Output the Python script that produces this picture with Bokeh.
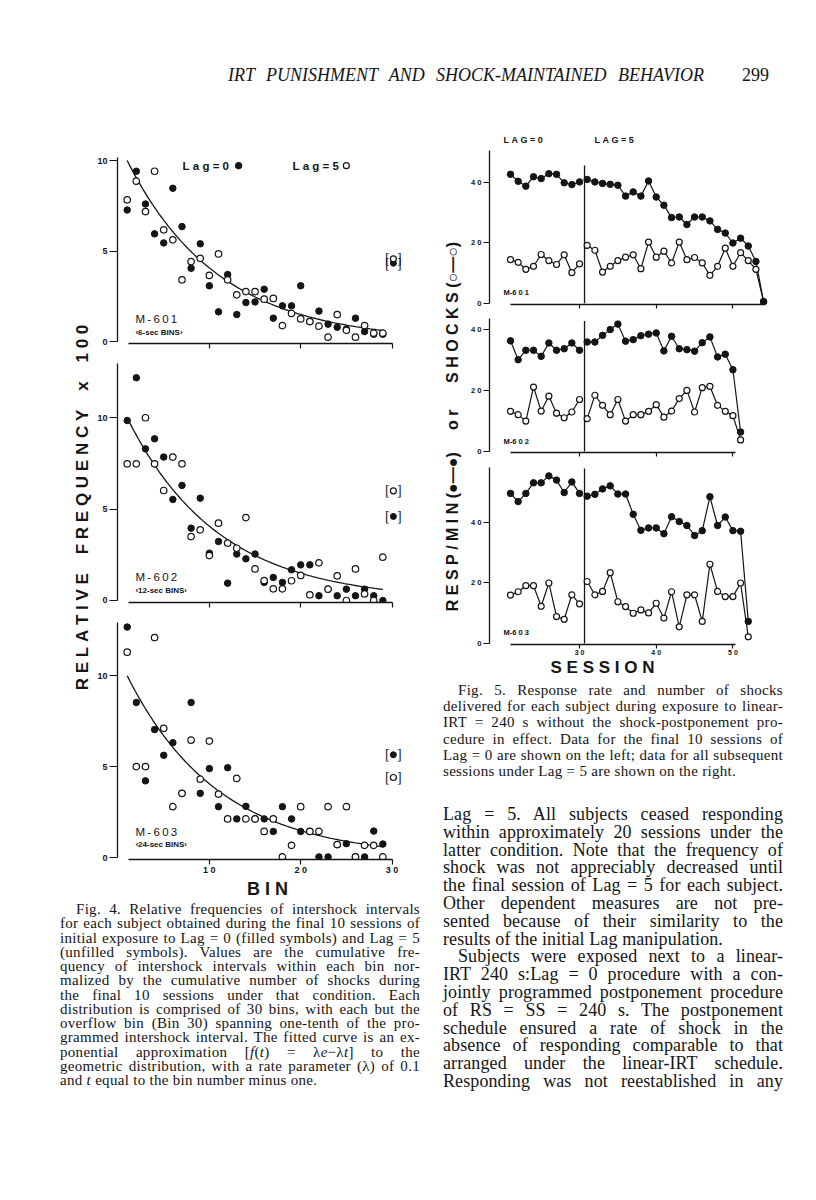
import numpy as np
from bokeh.plotting import figure
from bokeh.layouts import column, row
from bokeh.models import Div, Range1d, FixedTicker, Spacer
from bokeh.core.properties import value
from bokeh.embed import file_html
from bokeh.resources import INLINE

# ---------------- data read from the page ----------------
# Fig. 4: relative frequency x 100 per bin (bins 1-29); bin 30 (overflow) is bracketed
bins = list(range(1, 30))
bin_ticks = [10, 20, 30]
freq_ticks = [0, 5, 10]
m601_lag0 = [7.27, 9.41, 7.60, 5.95, 5.45, 8.47, 6.35, 4.05, 5.40, 3.08, 1.64, 3.70, 1.49, 2.15, 2.19,
             2.89, 1.29, 1.97, 1.97, 3.08, 1.10, 1.68, 0.96, 0.79, 0.68, 1.29, 0.55, 0.40, 0.40]
m601_lag5 = [7.83, 8.86, 7.18, 9.41, 6.17, 5.62, 3.41, 4.42, 4.60, 3.65, 4.84, 3.41, 2.58, 2.76, 2.76,
             2.34, 2.38, 0.88, 1.55, 1.25, 1.10, 0.85, 0.24, 1.49, 0.62, 0.24, 0.88, 0.46, 0.46]
m602_lag0 = [9.85, 12.19, 8.30, 8.85, 7.85, 5.53, 6.30, 3.96, 5.60, 2.59, 3.23, 0.95, 2.54, 2.28, 2.54,
             0.99, 1.26, 0.99, 1.68, 1.95, 1.95, 0.26, 0.62, 0.26, 0.62, 0.26, 0.62, 0.26, 0.00]
m602_lag5 = [7.48, 7.48, 10.00, 7.48, 6.02, 7.85, 7.48, 3.50, 3.87, 2.46, 4.23, 3.14, 2.86, 4.54, 1.73,
             1.09, 0.64, 0.64, 1.08, 1.37, 0.31, 2.06, 0.62, 1.35, 0.00, 1.73, 0.36, 0.00, 2.37]
m603_lag0 = [12.67, 8.53, 4.23, 7.04, 5.63, 6.32, 3.54, 8.53, 3.54, 4.90, 2.81, 4.95, 2.14, 2.83, 2.14,
             2.14, 1.45, 2.81, 2.14, 1.45, 1.45, 0.05, 0.05, 0.73, 0.78, 0.05, 0.05, 1.47, 0.76]
m603_lag5 = [11.29, 5.01, 5.01, 12.09, 7.11, 2.81, 3.54, 6.46, 4.32, 6.41, 3.50, 2.14, 4.36, 2.14, 2.14,
             1.45, 2.14, 0.05, 0.69, 2.81, 1.45, 1.45, 2.81, 0.73, 2.81, 0.05, 0.69, 0.69, 0.05]
overflow_bin = 30
overflow_lag0 = [4.33, 4.60, 5.66]   # M-601, M-602, M-603
overflow_lag5 = [4.57, 6.00, 4.41]
lambda_rate = 0.1                    # fitted exponential, f(t) = lambda * exp(-lambda t), t = bin - 1

# Fig. 5: responses/min (filled) and shocks (unfilled) per session
session_ticks = [30, 40, 50]
rate_ticks = [0, 20, 40]
sessions_lag0 = list(range(21, 31))
lag_boundary = 30.65
m601_resp_lag0 = [42.6, 40.3, 38.7, 41.8, 41.2, 42.8, 42.6, 39.8, 39.2, 40.1]
m601_shock_lag0 = [14.4, 13.5, 11.2, 12.2, 16.1, 14.1, 12.8, 16.0, 10.1, 13.0]
m601_resp_lag5 = [40.9, 40.1, 39.6, 39.3, 39.0, 35.4, 36.8, 35.4, 40.4, 35.1, 32.4, 28.3, 28.5, 26.0,
                  28.5, 28.5, 27.2, 24.4, 23.2, 19.9, 21.5, 18.9, 13.8, 0.5]
m601_shock_lag5 = [19.1, 17.5, 10.3, 12.2, 14.1, 15.2, 16.0, 11.4, 20.2, 15.2, 17.2, 13.3, 20.2, 14.4,
                   15.1, 13.3, 9.2, 12.2, 18.2, 12.2, 16.7, 14.1, 11.2, 0.5]
m602_resp_lag0 = [36.4, 30.2, 33.3, 33.3, 31.3, 35.7, 33.3, 33.8, 35.7, 33.3]
m602_shock_lag0 = [13.2, 12.1, 10.0, 21.2, 13.3, 18.2, 12.6, 11.1, 13.0, 17.1]
m602_resp_lag5 = [36.0, 36.0, 38.2, 40.1, 41.9, 36.3, 36.8, 38.1, 38.6, 39.0, 33.1, 37.9, 33.8, 33.5,
                  33.0, 35.8, 37.7, 31.1, 32.0, 26.9, 6.4]
m602_shock_lag5 = [10.8, 18.5, 15.2, 12.1, 17.1, 10.0, 12.1, 12.1, 13.2, 15.4, 11.3, 13.3, 17.4, 20.1,
                   13.0, 21.0, 21.4, 15.2, 13.2, 11.8, 3.8]
m603_resp_lag0 = [49.6, 46.9, 49.6, 53.1, 53.1, 55.4, 54.0, 49.9, 53.4, 49.6]
m603_shock_lag0 = [16.0, 17.1, 19.1, 19.1, 12.3, 20.0, 8.9, 8.0, 16.1, 13.1]
m603_resp_lag5 = [48.7, 49.3, 51.1, 52.1, 49.4, 49.4, 42.7, 37.4, 38.2, 38.2, 36.3, 41.9, 40.3, 39.0,
                  35.7, 37.3, 48.5, 39.0, 41.8, 37.3, 37.1, 7.3]
m603_shock_lag5 = [20.5, 16.1, 17.2, 23.4, 13.8, 12.2, 10.0, 11.1, 10.1, 13.3, 8.4, 17.1, 5.5, 16.1,
                   16.1, 7.3, 26.2, 17.2, 15.5, 15.5, 20.0, 2.2]

INK = "#141414"
SANS = "Liberation Sans"
SERIF = "Liberation Serif"
NB = "\u00a0"
TH = "\u2009"


def spaced(s, gap=NB):
    return gap.join(s)


def txt(p, x, y, s, size, align="left", bold=True, angle=0.0, font=SANS):
    p.text(x=[x], y=[y], text=[s], angle=angle, text_font=value(font),
           text_font_style="bold" if bold else "normal", text_font_size=size,
           text_align=align, text_baseline="middle", text_color=INK)


def blank_fig(w, h):
    p = figure(width=w, height=h, x_range=Range1d(0, w), y_range=Range1d(0, h),
               x_axis_type=None, y_axis_type=None, output_backend="svg", toolbar_location=None,
               min_border=0)
    p.grid.visible = False
    p.outline_line_color = None
    return p


def style_axis(ax, ticks, overrides, tick_out, font_size, show_labels=True, bounds=None, standoff=2):
    ax.ticker = FixedTicker(ticks=ticks)
    ax.axis_line_color = INK
    ax.axis_line_width = 1.3
    ax.major_tick_line_color = INK
    ax.major_tick_line_width = 1.2
    ax.major_tick_out = tick_out
    ax.major_tick_in = 0
    ax.minor_tick_line_color = None
    ax.major_label_text_font = SANS
    ax.major_label_text_font_style = "bold"
    if bounds is not None:
        ax.bounds = bounds
    if show_labels:
        ax.major_label_text_color = INK
        ax.major_label_text_font_size = font_size
        ax.major_label_standoff = standoff
        ax.major_label_overrides = overrides
    else:
        ax.major_label_text_color = None
        ax.major_label_text_font_size = "1px"
        ax.major_label_standoff = 0


# ---------------- Fig. 4 panels ----------------
def left_panel(height, bt, bb, yr, ytop, lag0, lag5, ov0, ov5, subj, binsz, lab_y, xlabels):
    p = figure(width=336, height=height, x_range=Range1d(-0.062, 31.04), y_range=Range1d(*yr),
               output_backend="svg", toolbar_location=None,
               min_border_left=25, min_border_right=27, min_border_top=bt, min_border_bottom=bb)
    p.grid.visible = False
    p.outline_line_color = None
    style_axis(p.yaxis[0], freq_ticks, {}, 8, "9px", True, (0, ytop))
    style_axis(p.xaxis[0], bin_ticks, {10: spaced("10"), 20: spaced("20"), 30: spaced("30")},
               5, "9px", xlabels, (1.15, 30), standoff=0)
    t = np.linspace(0, 28, 160)
    p.line(t + 1, 100 * lambda_rate * np.exp(-lambda_rate * t), line_color=INK, line_width=1.3)
    p.scatter(bins, lag0, size=6.5, marker="circle", fill_color=INK, line_color=INK)
    p.scatter(bins, lag5, size=6.5, marker="circle", fill_color="white", line_color=INK, line_width=1.2)
    xo = overflow_bin + 0.15
    p.scatter([xo], [ov0], size=6, marker="circle", fill_color=INK, line_color=INK)
    p.scatter([xo], [ov5], size=6, marker="circle", fill_color="white", line_color=INK, line_width=1.2)
    for v in (ov0, ov5):
        p.text(x=[xo], y=[v], text=["["], x_offset=-6, text_font=value(SERIF), text_font_size="14px",
               text_align="center", text_baseline="middle", text_color=INK)
        p.text(x=[xo], y=[v], text=["]"], x_offset=6, text_font=value(SERIF), text_font_size="14px",
               text_align="center", text_baseline="middle", text_color=INK)
    txt(p, 1.9, lab_y[0], spaced(subj, TH), "11.5px", bold=False)
    txt(p, 1.9, lab_y[1], binsz, "8px")
    return p


L1 = left_panel(235, 39, 10, (-0.11, 10.17), 10.17, m601_lag0, m601_lag5, overflow_lag0[0],
                overflow_lag5[0], "M-601", "\u20396-sec BINS\u203a", (1.27, 0.5), False)
L2 = left_panel(259, 10, 10, (-0.11, 12.97), 12.97, m602_lag0, m602_lag5, overflow_lag0[1],
                overflow_lag5[1], "M-602", "\u203912-sec BINS\u203a", (1.26, 0.55), False)
L3 = left_panel(265, 10, 16, (-0.09, 12.92), 12.92, m603_lag0, m603_lag5, overflow_lag0[2],
                overflow_lag5[2], "M-603", "\u203924-sec BINS\u203a", (1.43, 0.72), True)
# legend text in top panel
txt(L1, 7.07, 9.72, spaced("Lag=0"), "11.5px")
L1.scatter([13.2], [9.72], size=6.5, marker="circle", fill_color=INK, line_color=INK)
txt(L1, 19.1, 9.72, spaced("Lag=5"), "11.5px")
L1.scatter([25.0], [9.72], size=6, marker="circle", fill_color="white", line_color=INK, line_width=1.2)

ylab_L = blank_fig(84, 759)
txt(ylab_L, 74, 370, spaced("RELATIVE") + NB * 4 + spaced("FREQUENCY") + NB * 4 + "x" + NB * 4
    + spaced("100"), "17px", align="center", angle=np.pi / 2)

bin_fig = blank_fig(420, 24)
txt(bin_fig, 259, 13, spaced("BIN"), "18px", align="center")


# ---------------- Fig. 5 panels ----------------
def right_panel(height, bt, bb, yr, ytop, xhi, r0, s0, r5, s5, subj, subj_y, div_top, xlabels):
    p = figure(width=340, height=height, x_range=Range1d(18.262, 54.638), y_range=Range1d(*yr),
               output_backend="svg", toolbar_location=None,
               min_border_left=21, min_border_right=40, min_border_top=bt, min_border_bottom=bb)
    p.grid.visible = False
    p.outline_line_color = None
    style_axis(p.yaxis[0], rate_ticks, {20: spaced("20"), 40: spaced("40")}, 6, "7.5px", True, (0, ytop))
    style_axis(p.xaxis[0], session_ticks, {30: spaced("30"), 40: spaced("40"), 50: spaced("50")},
               4, "7px", xlabels, (21, xhi), standoff=0)
    p.segment(x0=[lag_boundary], y0=[0], x1=[lag_boundary], y1=[div_top], line_color=INK, line_width=1.3)
    ses5 = list(range(31, 31 + len(r5)))
    for xs, ys in ((sessions_lag0, r0), (ses5, r5), (sessions_lag0, s0), (ses5, s5)):
        p.line(xs, ys, line_color=INK, line_width=1.2)
    for xs, ys in ((sessions_lag0, s0), (ses5, s5)):
        p.scatter(xs, ys, size=6, marker="circle", fill_color="white", line_color=INK, line_width=1.2)
    for xs, ys in ((sessions_lag0, r0), (ses5, r5)):
        p.scatter(xs, ys, size=6.5, marker="circle", fill_color=INK, line_color=INK)
    txt(p, 20.1, subj_y, subj, "7.5px")
    return p


R1 = right_panel(194, 10, 8, (-0.43, 57.75), 50.5, 54.2, m601_resp_lag0, m601_shock_lag0,
                 m601_resp_lag5, m601_shock_lag5, "M-6" + NB + "0" + NB + "1", 3.5, 45.5, False)
R2 = right_panel(148, 6, 8, (-0.33, 43.75), 43.75, 50.3, m602_resp_lag0, m602_shock_lag0,
                 m602_resp_lag5, m602_shock_lag5, "M-6" + NB + "0" + NB + "2", 3.3, 42.9, False)
R3 = right_panel(198, 7, 12, (-0.33, 58.17), 58.17, 50.3, m603_resp_lag0, m603_shock_lag0,
                 m603_resp_lag5, m603_shock_lag5, "M-6" + NB + "0" + NB + "3", 3.6, 57.8, True)
txt(R1, 20.09, 54.1, spaced("LAG=0"), "9px")
txt(R1, 31.95, 54.1, spaced("LAG=5"), "9px")

ylab_R = blank_fig(40, 540)
txt(ylab_R, 24, 232, spaced("RESP/MIN") + NB + "(\u25cf\u2014\u25cf)" + NB * 5 + spaced("or") + NB * 6
    + spaced("SHOCKS") + NB + "(\u25cb\u2014\u25cb)", "16px", align="center", angle=np.pi / 2)

session_fig = blank_fig(380, 22)
txt(session_fig, 174, 13, spaced("SESSION"), "17px", align="center")


# ---------------- text blocks ----------------
def text_block(lines, w, h, left, width, size, lh, pad, ls):
    parts = [f'<div style="padding-top:{pad}px;margin-left:{left}px;width:{width}px;'
             f"font-family:'{SERIF}',serif;font-size:{size}px;line-height:{lh}px;"
             f'letter-spacing:{ls}px;color:{INK}">']
    for s, mode, ind in lines:
        last = "justify" if mode == "j" else "left"
        parts.append(f'<div style="text-align:justify;text-align-last:{last};text-indent:{ind}px">{s}</div>')
    parts.append("</div>")
    return Div(text="".join(parts), width=w, height=h, margin=0)


cap4 = [
    ("Fig. 4. Relative frequencies of intershock intervals", "j", 16),
    ("for each subject obtained during the final 10 sessions of", "j", 0),
    ("initial exposure to Lag = 0 (filled symbols) and Lag = 5", "j", 0),
    ("(unfilled symbols). Values are the cumulative fre-", "j", 0),
    ("quency of intershock intervals within each bin nor-", "j", 0),
    ("malized by the cumulative number of shocks during", "j", 0),
    ("the final 10 sessions under that condition. Each", "j", 0),
    ("distribution is comprised of 30 bins, with each but the", "j", 0),
    ("overflow bin (Bin 30) spanning one-tenth of the pro-", "j", 0),
    ("grammed intershock interval. The fitted curve is an ex-", "j", 0),
    ("ponential approximation [<i>f</i>(<i>t</i>) = \u03bb<i>e</i>\u2212\u03bb<i>t</i>] to the", "j", 0),
    ("geometric distribution, with a rate parameter (\u03bb) of 0.1", "j", 0),
    ("and <i>t</i> equal to the bin number minus one.", "l", 0),
]
cap5 = [
    ("Fig. 5. Response rate and number of shocks", "j", 15),
    ("delivered for each subject during exposure to linear-", "j", 0),
    ("IRT = 240 s without the shock-postponement pro-", "j", 0),
    ("cedure in effect. Data for the final 10 sessions of", "j", 0),
    ("Lag = 0 are shown on the left; data for all subsequent", "j", 0),
    ("sessions under Lag = 5 are shown on the right.", "l", 0),
]
body = [
    ("Lag = 5. All subjects ceased responding", "j", 0),
    ("within approximately 20 sessions under the", "j", 0),
    ("latter condition. Note that the frequency of", "j", 0),
    ("shock was not appreciably decreased until", "j", 0),
    ("the final session of Lag = 5 for each subject.", "j", 0),
    ("Other dependent measures are not pre-", "j", 0),
    ("sented because of their similarity to the", "j", 0),
    ("results of the initial Lag manipulation.", "l", 0),
    ("Subjects were exposed next to a linear-", "j", 15),
    ("IRT 240 s:Lag = 0 procedure with a con-", "j", 0),
    ("jointly programmed postponement procedure", "j", 0),
    ("of RS = SS = 240 s. The postponement", "j", 0),
    ("schedule ensured a rate of shock in the", "j", 0),
    ("absence of responding comparable to that", "j", 0),
    ("arranged under the linear-IRT schedule.", "j", 0),
    ("Responding was not reestablished in any", "j", 0),
]

capL = text_block(cap4, 420, 192, 52, 360, 15, 14.25, 1, 0.3)
capR = text_block(cap5, 380, 100, 15, 340, 15, 16.2, 2, 0.3)
bodyR = text_block(body, 380, 312, 15, 340, 18, 17.8, 26, 0.1)

header = Div(text=(
    f"<div style=\"position:relative;width:800px;height:110px;font-family:'{SERIF}',serif;color:{INK}\">"
    "<div style=\"position:absolute;left:220px;top:56px;width:476px;font-style:italic;font-size:18px;"
    "line-height:22px;text-align:justify;text-align-last:justify\">IRT PUNISHMENT AND SHOCK-MAINTAINED BEHAVIOR</div>"
    "<div style=\"position:absolute;left:734px;top:56px;font-size:18px;line-height:22px\">299</div></div>"),
    width=800, height=110, margin=0)

left_block = column(row(ylab_L, column(L1, L2, L3, spacing=0), spacing=0), bin_fig, capL, spacing=0)
right_block = column(row(ylab_R, column(R1, R2, R3, spacing=0), spacing=0), session_fig, capR, bodyR,
                     spacing=0)
page = column(header, row(left_block, right_block, spacing=0), spacing=0)
root = column(Spacer(width=800, height=8), row(Spacer(width=8, height=10), page, spacing=0), spacing=0)

open("out.html", "w").write(file_html(root, INLINE))
